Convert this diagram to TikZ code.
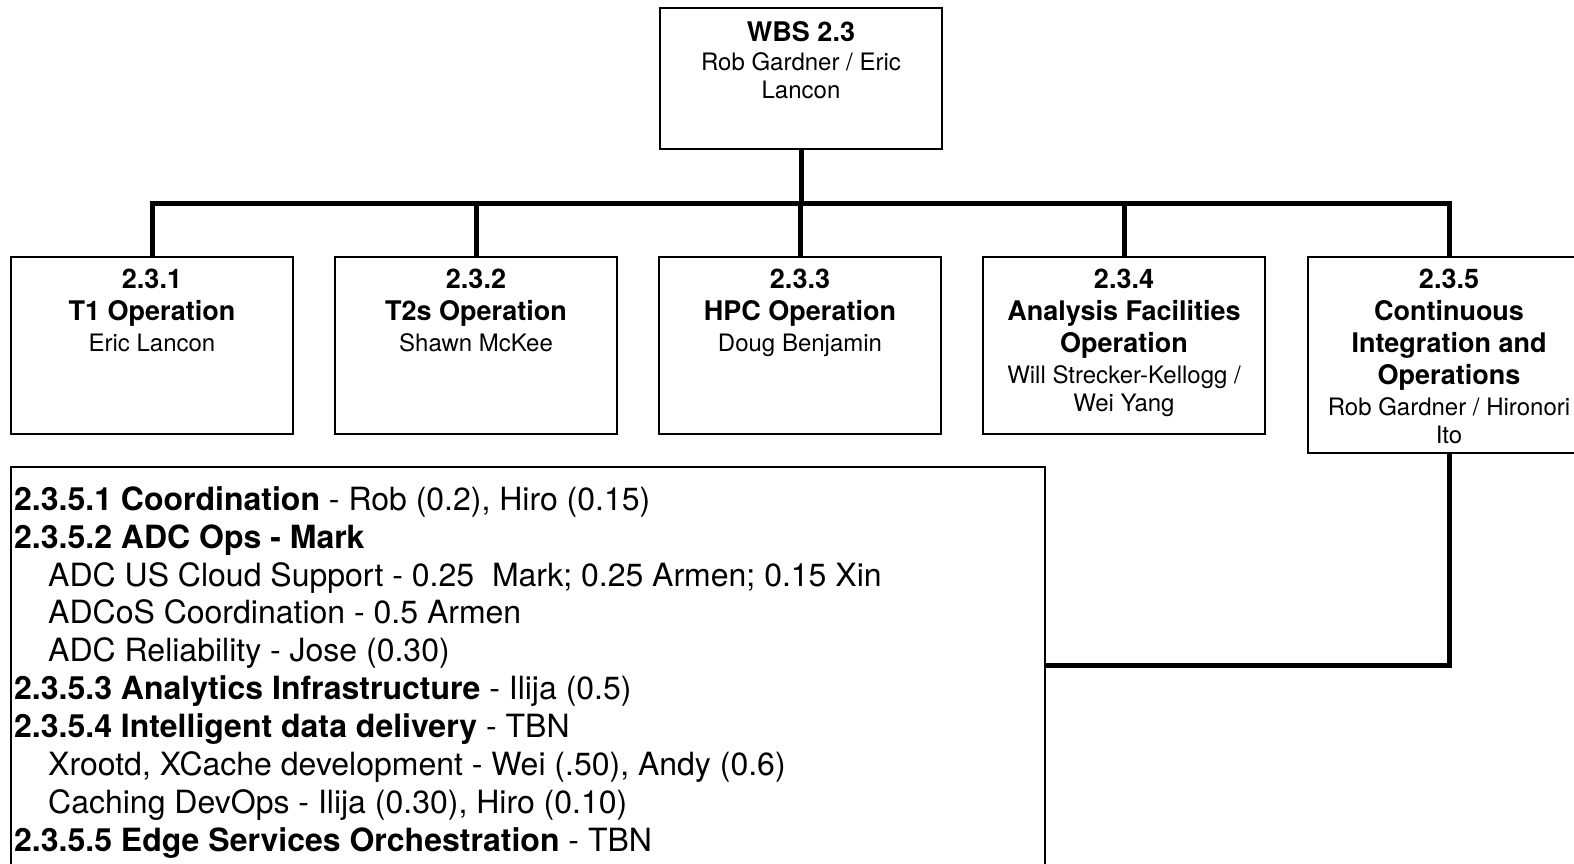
\documentclass[tikz,border=0pt]{standalone}
\usepackage{fontspec}
\setmainfont{TeX Gyre Heros}
% bold heading lines inside the boxes
\newcommand{\boxhead}[1]{{\fontsize{27}{28}\selectfont\textbf{#1}}}
\begin{document}
\begin{tikzpicture}[x=1pt,y=-1pt,
  box/.style={draw, line width=2pt, rectangle, inner sep=0pt,
    minimum width=282pt, anchor=north west},
  conn/.style={line width=5pt},
  head/.style={font=\fontsize{24}{28}\selectfont, align=center,
    inner sep=0pt, anchor=north},
  list/.style={font=\fontsize{32}{37.9}\selectfont, align=left,
    inner sep=0pt, anchor=north west}]
\useasboundingbox (0,0) rectangle (1574,863);
\clip (0,0) rectangle (1574,863);

% top-level box
\node[box, minimum height=141pt] (wbs) at (659,7) {};
\node[head] (wbst) at ([yshift=-10pt]wbs.north)
  {\rule{0pt}{24pt}\boxhead{WBS 2.3}\\[1pt]Rob Gardner / Eric\\Lancon};

% second-level boxes
\node[box, minimum height=177pt] (b1) at (10,256) {};
\node[box, minimum height=177pt] (b2) at (334,256) {};
\node[box, minimum height=177pt] (b3) at (658,256) {};
\node[box, minimum height=177pt] (b4) at (982,256) {};
\node[box, minimum height=196pt] (b5) at (1307,256) {};

\node[head] (b1t) at ([yshift=-8pt]b1.north)
  {\rule{0pt}{24pt}\boxhead{2.3.1}\\[4pt]\boxhead{T1 Operation}\\[3pt]Eric Lancon};
\node[head] (b2t) at ([yshift=-8pt]b2.north)
  {\rule{0pt}{24pt}\boxhead{2.3.2}\\[4pt]\boxhead{T2s Operation}\\[3pt]Shawn McKee};
\node[head] (b3t) at ([yshift=-8pt]b3.north)
  {\rule{0pt}{24pt}\boxhead{2.3.3}\\[4pt]\boxhead{HPC Operation}\\[3pt]Doug Benjamin};
\node[head] (b4t) at ([yshift=-8pt]b4.north)
  {\rule{0pt}{24pt}\boxhead{2.3.4}\\[4pt]\boxhead{Analysis Facilities}\\[4pt]\boxhead{Operation}\\[3pt]Will Strecker-Kellogg /\\Wei Yang};
\node[head] (b5t) at ([yshift=-8pt]b5.north)
  {\rule{0pt}{24pt}\boxhead{2.3.5}\\[4pt]\boxhead{Continuous}\\[4pt]\boxhead{Integration and}\\[4pt]\boxhead{Operations}\\[3pt]Rob Gardner / Hironori\\Ito};

% breakdown of 2.3.5
\node[box, minimum width=1034pt, minimum height=420pt] (detail) at (10,466) {};
\node[list] (detailt) at ([xshift=4pt,yshift=-14pt]detail.north west)
  {\rule{0pt}{30pt}\textbf{2.3.5.1 Coordination} - Rob (0.2), Hiro (0.15)\\
   \textbf{2.3.5.2 ADC Ops - Mark}\\
   \hspace*{34pt}ADC US Cloud Support - 0.25\ \ Mark; 0.25 Armen; 0.15 Xin\\
   \hspace*{34pt}ADCoS Coordination - 0.5 Armen\\
   \hspace*{34pt}ADC Reliability - Jose (0.30)\\
   \textbf{2.3.5.3 Analytics Infrastructure} - Ilija (0.5)\\
   \textbf{2.3.5.4 Intelligent data delivery} - TBN\\
   \hspace*{34pt}Xrootd, XCache development - Wei (.50), Andy (0.6)\\
   \hspace*{34pt}Caching DevOps - Ilija (0.30), Hiro (0.10)\\
   \textbf{2.3.5.5 Edge Services Orchestration} - TBN};

% connectors
\coordinate (bus) at (0,203);
\coordinate (low) at (0,665);
\draw[conn] (wbs.south) -- (wbs.south |- bus);
\draw[conn] (b1.north) -- (b1.north |- bus) -| (b5.north);
\draw[conn] (b2.north) -- (b2.north |- bus);
\draw[conn] (b3.north) -- (b3.north |- bus);
\draw[conn] (b4.north) -- (b4.north |- bus);
\draw[conn] (b5.south) |- (detail.east |- low);
\end{tikzpicture}
\end{document}
